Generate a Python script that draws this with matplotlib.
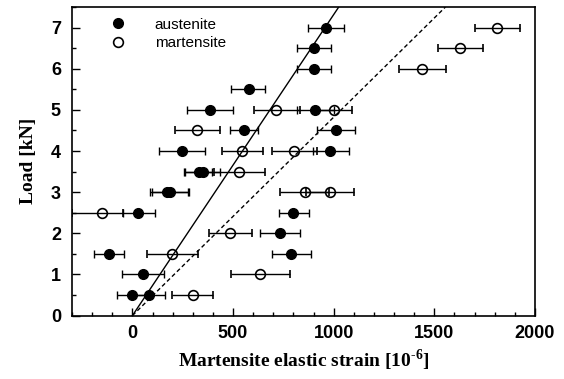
import numpy as np
import matplotlib
matplotlib.use("Agg")
import matplotlib.pyplot as plt
from matplotlib.ticker import MultipleLocator

plt.rcParams['mathtext.fontset'] = 'custom'
plt.rcParams['mathtext.rm'] = 'Liberation Serif:bold'
plt.rcParams['mathtext.bf'] = 'Liberation Serif:bold'

# austenite: load [kN], strain, lower / upper end of error bar
aus_load = [7.0, 6.5, 6.0, 5.5, 5.0, 5.0, 4.5, 4.5, 4.0, 4.0, 3.5, 3.5,
            3.0, 3.0, 2.5, 2.5, 2.0, 1.5, 1.5, 1.0, 0.5, 0.5]
aus_strain = [961, 900, 903, 579, 387, 908, 553, 1011, 248, 983, 329, 349,
              170, 186, 28, 800, 734, -116, 789, 51, 0, 83]
aus_lo = [870, 820, 820, 492, 273, 817, 483, 917, 134, 897, 255, 263,
          89, 95, -48, 726, 635, -192, 695, -50, -79, 5]
aus_hi = [1049, 986, 988, 660, 501, 1000, 625, 1107, 362, 1074, 395, 437,
          275, 280, 111, 875, 834, -43, 888, 155, 77, 160]

# martensite
mar_load = [7.0, 6.5, 6.0, 5.0, 5.0, 4.5, 4.0, 4.0, 3.5, 3.0, 3.0,
            2.5, 2.0, 1.5, 1.0, 0.5]
mar_strain = [1813, 1628, 1441, 715, 1003, 323, 546, 804, 529, 855, 983,
              -150, 486, 199, 632, 299]
mar_lo = [1702, 1517, 1322, 602, 917, 213, 447, 693, 403, 734, 862,
          -300, 382, 73, 490, 197]
mar_hi = [1925, 1740, 1557, 834, 1090, 437, 649, 917, 660, 975, 1102,
          -48, 594, 324, 781, 400]

# fitted slopes, kN per 10^-6 strain
aus_slope = 7.5 / 1025
mar_slope = 7.5 / 1555


def bar_err(x, lo, hi):
    x = np.asarray(x, float)
    return [x - np.asarray(lo, float), np.asarray(hi, float) - x]


fig = plt.figure(figsize=(5.64, 3.79), dpi=100)
ax = fig.add_axes([0.1277, 0.1673, 0.8209, 0.8142])

eb_a = ax.errorbar(aus_strain, aus_load, xerr=bar_err(aus_strain, aus_lo, aus_hi),
                   fmt='o', color='black', ms=7, mfc='black', mec='black',
                   ecolor='black', elinewidth=1, capsize=2.7, capthick=1, zorder=3)
eb_m = ax.errorbar(mar_strain, mar_load, xerr=bar_err(mar_strain, mar_lo, mar_hi),
                   fmt='o', color='black', ms=7, mfc='none', mec='black', mew=1.2,
                   ecolor='black', elinewidth=1, capsize=2.7, capthick=1, zorder=3)

fit_y = np.array([0.0, 7.5])
ax.plot(fit_y / aus_slope, fit_y, color='black', lw=1, zorder=2)
ax.plot(fit_y / mar_slope, fit_y, color='black', lw=1, ls=(0, (3, 2)), zorder=2)

ax.set_xlim(-300, 2000)
ax.set_ylim(0, 7.5)
ax.xaxis.set_major_locator(MultipleLocator(500))
ax.xaxis.set_minor_locator(MultipleLocator(100))
ax.yaxis.set_major_locator(MultipleLocator(1))
ax.yaxis.set_minor_locator(MultipleLocator(0.5))
ax.tick_params(which='both', direction='in', width=1)
ax.tick_params(which='major', length=6)
ax.tick_params(which='minor', length=3)
ax.tick_params(axis='x', pad=7)
ax.tick_params(axis='y', pad=8)
for lab in ax.get_xticklabels() + ax.get_yticklabels():
    lab.set_fontfamily('Liberation Sans')
    lab.set_fontweight('bold')
    lab.set_fontsize(13)
for sp in ax.spines.values():
    sp.set_linewidth(1.2)

ax.set_xlabel(r'Martensite elastic strain [10$^{\text{-}6}$]',
              fontfamily='Liberation Serif', fontweight='bold', fontsize=14, labelpad=4)
ax.set_ylabel('Load [kN]', fontfamily='Liberation Serif', fontweight='bold',
              fontsize=14, labelpad=10)

ax.legend([eb_a[0], eb_m[0]], ['austenite', 'martensite'], loc='upper left',
          frameon=False, prop={'family': 'Liberation Sans', 'size': 11},
          handlelength=1.0, handletextpad=1.9, labelspacing=0.3,
          borderaxespad=0.3, bbox_to_anchor=(0.06, 1.0))

fig.savefig('out.png', dpi=100)
